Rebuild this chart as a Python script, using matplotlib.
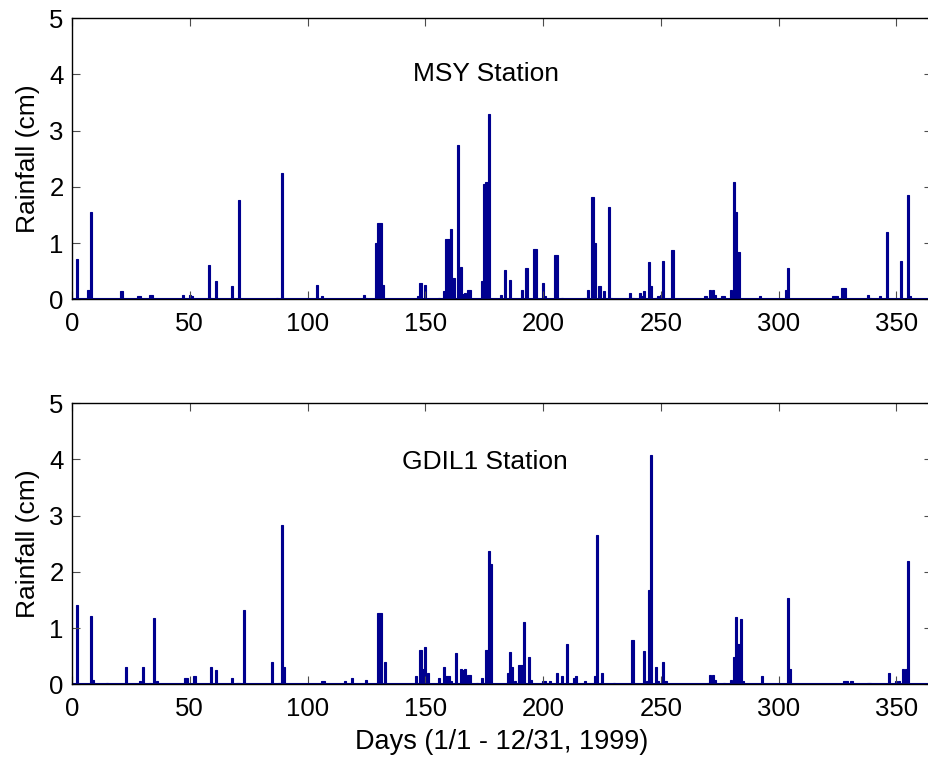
import matplotlib
matplotlib.use("Agg")
import matplotlib.pyplot as plt

plt.rcParams["font.family"] = ["Liberation Sans", "DejaVu Sans"]

# MSY station, day of year and rainfall (cm), dry days left out
msy_days = [2, 7, 8, 21, 28, 29, 33, 34, 47, 50, 51, 58, 59, 61, 68, 71, 87, 89,
            104, 106, 124, 125, 129, 130, 131, 132, 147, 148, 150, 156, 158,
            159, 160, 161, 162, 164, 165, 166, 167, 168, 169, 174, 175, 176, 177,
            182, 184, 186, 191, 193, 196, 197, 200, 201, 205, 206, 208, 218, 219,
            221, 222, 224, 226, 228, 229, 237, 238, 241, 242, 243, 245, 246, 248,
            249, 250, 251, 255, 269, 271, 272, 273, 276, 277, 280, 281, 282, 283,
            292, 303, 304, 323, 324, 325, 327, 328, 338, 339, 343, 346, 352, 355,
            356]
msy_rain = [0.72, 0.17, 1.56, 0.14, 0.05, 0.05, 0.08, 0.08, 0.08, 0.08, 0.05,
            0.61, 0.02, 0.32, 0.24, 1.77, 0.02, 2.25,
            0.26, 0.05, 0.08, 0.03, 1.01, 1.35, 1.35, 0.26, 0.05, 0.29, 0.26,
            0.02, 0.15,
            1.07, 1.07, 1.25, 0.38, 2.75, 0.57, 0.09, 0.12, 0.17, 0.17, 0.32,
            2.05, 2.08, 3.29,
            0.08, 0.52, 0.34, 0.17, 0.55, 0.90, 0.90, 0.29, 0.06, 0.78, 0.78,
            0.03, 0.02, 0.17,
            1.82, 1.01, 0.24, 0.15, 1.65, 0.03, 0.12, 0.03, 0.12, 0.05, 0.15,
            0.66, 0.24, 0.02,
            0.05, 0.08, 0.69, 0.87, 0.05, 0.17, 0.17, 0.08, 0.05, 0.05, 0.17,
            2.08, 1.55, 0.84,
            0.05, 0.17, 0.55, 0.05, 0.05, 0.05, 0.20, 0.20, 0.08, 0.03, 0.05,
            1.19, 0.69, 1.85, 0.05]

# GDIL1 station
gdil_days = [2, 8, 9, 15, 23, 29, 30, 33, 35, 36, 48, 49, 52, 59, 61, 68, 70,
             71, 73, 85, 88, 89, 90, 106, 107, 116, 119, 125, 130, 131, 133,
             146, 148, 149, 150, 151, 156, 158, 159, 160, 161, 163, 165, 166,
             167, 168, 169, 172, 174, 175, 176, 177, 178, 185, 186, 187, 188,
             190, 191, 192, 194, 195, 200, 201, 203, 206, 208, 210, 213, 214,
             218, 222, 223, 225, 230, 238, 243, 244, 245, 246, 248, 249, 251,
             252, 270, 271, 272, 273, 277, 280, 281, 282, 283, 284, 285, 293,
             304, 305, 328, 329, 331, 338, 339, 347, 350, 351, 353, 354, 355]
gdil_rain = [1.41, 1.21, 0.08, 0.02, 0.31, 0.06, 0.31, 0.02, 1.18, 0.06, 0.11,
             0.11, 0.14, 0.31, 0.26, 0.11, 0.02,
             0.02, 1.32, 0.40, 0.02, 2.83, 0.31, 0.06, 0.06, 0.06, 0.11, 0.08,
             1.27, 1.27, 0.40,
             0.14, 0.61, 0.28, 0.66, 0.20, 0.11, 0.31, 0.14, 0.14, 0.06, 0.55,
             0.28, 0.26,
             0.28, 0.17, 0.17, 0.02, 0.11, 0.02, 0.61, 2.37, 2.14, 0.20, 0.58,
             0.31, 0.06,
             0.34, 0.34, 1.10, 0.49, 0.08, 0.06, 0.06, 0.06, 0.20, 0.14, 0.72,
             0.11, 0.14,
             0.06, 0.14, 2.66, 0.20, 0.02, 0.78, 0.60, 0.06, 1.68, 4.08, 0.31,
             0.06, 0.40,
             0.06, 0.02, 0.17, 0.17, 0.08, 0.02, 0.08, 0.49, 1.19, 0.72, 1.16,
             0.06, 0.14,
             1.53, 0.28, 0.06, 0.06, 0.06, 0.02, 0.02, 0.20, 0.06, 0.06, 0.28,
             0.28, 2.19]

stations = [("MSY Station", msy_days, msy_rain, 145, 4.0),
            ("GDIL1 Station", gdil_days, gdil_rain, 140, 3.95)]

BLUE = (0.0, 0.0, 0.56)
FS = 18.5

fig = plt.figure(figsize=(9.29, 7.61), dpi=100)
positions = [[0.0775, 0.6067, 0.9253, 0.3693],
             [0.0775, 0.1008, 0.9253, 0.3693]]

for pos, (name, days, rain, tx, ty) in zip(positions, stations):
    ax = fig.add_axes(pos)
    ax.bar(days, rain, width=0.9, color=BLUE, edgecolor=BLUE, linewidth=0.8)
    ax.axhline(0, color=BLUE, lw=1.5)
    ax.set_xlim(0, 365)
    ax.set_ylim(0, 5)
    ax.set_xticks([0, 50, 100, 150, 200, 250, 300, 350])
    ax.set_yticks([0, 1, 2, 3, 4, 5])
    ax.tick_params(direction="in", length=6, width=0.8, top=True, right=True,
                   labelsize=FS, color="0.3")
    ax.tick_params(axis="x", pad=9)
    ax.tick_params(axis="y", pad=6)
    for s in ax.spines.values():
        s.set_linewidth(1.0)
    ax.set_ylabel("Rainfall (cm)", fontsize=19, labelpad=6.5)
    ax.text(tx, ty, name, fontsize=19, ha="left", va="center")

ax.set_xlabel("Days (1/1 - 12/31, 1999)", fontsize=19.5, labelpad=6)

fig.savefig("out.png", dpi=100)
